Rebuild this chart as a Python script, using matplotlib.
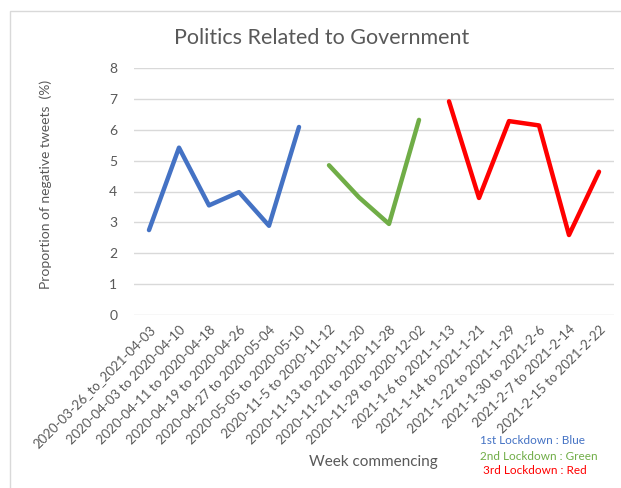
import matplotlib.pyplot as plt
from matplotlib.patches import Rectangle

plt.rcParams['font.family'] = ['Lato', 'DejaVu Sans']

# 週次標籤
weeks = ['2020-03-26_to_2021-04-03', '2020-04-03 to 2020-04-10', '2020-04-11 to 2020-04-18',
         '2020-04-19 to 2020-04-26', '2020-04-27 to 2020-05-04', '2020-05-05 to 2020-05-10',
         '2020-11-5 to 2020-11-12', '2020-11-13 to 2020-11-20', '2020-11-21 to 2020-11-28',
         '2020-11-29 to 2020-12-02', '2021-1-6 to 2021-1-13', '2021-1-14 to 2021-1-21',
         '2021-1-22 to 2021-1-29', '2021-1-30 to 2021-2-6', '2021-2-7 to 2021-2-14',
         '2021-2-15 to 2021-2-22']

# 三次封城的數據
first_x = [0, 1, 2, 3, 4, 5]
first_y = [2.75, 5.42, 3.55, 3.98, 2.89, 6.09]
second_x = [6, 7, 8, 9]
second_y = [4.85, 3.81, 2.95, 6.32]
third_x = [10, 11, 12, 13, 14, 15]
third_y = [6.92, 3.79, 6.28, 6.14, 2.59, 4.64]

gray = '#595959'

fig = plt.figure(figsize=(6.21, 4.88), dpi=100)
ax = fig.add_axes([134/621, 1 - 315/488, 480/621, 247/488])

line_kw = dict(lw=3.2, solid_capstyle='round', solid_joinstyle='round')
ax.plot(first_x, first_y, color='#4472C4', **line_kw)
ax.plot(second_x, second_y, color='#70AD47', **line_kw)
ax.plot(third_x, third_y, color='#FF0000', **line_kw)

ax.set_xlim(-0.5, 15.5)
ax.set_ylim(0, 8)
ax.set_yticks(range(0, 9))
ax.set_xticks(range(len(weeks)))
ax.set_xticklabels(weeks, rotation=45, ha='right', rotation_mode='anchor', fontsize=9.5, color=gray)
ax.tick_params(axis='y', labelsize=10, labelcolor=gray, length=0, pad=12)
ax.tick_params(axis='x', length=0, pad=6)

# 網格
ax.grid(axis='y', color='#D9D9D9', lw=1)
ax.set_axisbelow(True)
for s in ax.spines.values():
    s.set_visible(False)

ax.set_ylabel('Proportion of negative tweets  (%)', fontsize=10, color=gray)
ax.yaxis.set_label_coords(-0.171, 0.53)

# 標題與文字
fig.text(322/621, 1 - 38/488, 'Politics Related to Government', fontsize=15.5, color=gray,
         ha='center', va='center')
fig.text(373/621, 1 - 462/488, 'Week commencing', fontsize=11, color=gray, ha='center', va='center')
fig.text(480/621, 1 - 441/488, '1st Lockdown : Blue', fontsize=8.5, color='#4472C4', va='center')
fig.text(480/621, 1 - 456/488, '2nd Lockdown : Green', fontsize=8.5, color='#70AD47', va='center')
fig.text(483/621, 1 - 471/488, '3rd Lockdown : Red', fontsize=8.5, color='#FF0000', va='center')

# 外框
fig.patches.append(Rectangle((10/621, -0.1), 1, 1 - 11/488 + 0.1, transform=fig.transFigure,
                             fill=False, edgecolor='#D9D9D9', lw=1))

fig.savefig('out.png', dpi=100)
